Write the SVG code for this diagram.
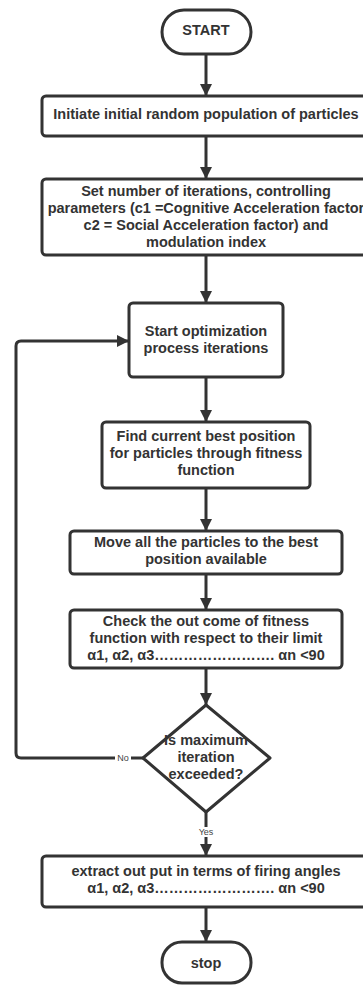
<svg xmlns="http://www.w3.org/2000/svg" width="363" height="985" viewBox="0 0 363 985">
<style>
.shape{fill:#fff;stroke:#333;stroke-width:3;}
.t{font-family:"Liberation Sans",Arial,sans-serif;font-size:14.5px;font-weight:bold;fill:#333;text-anchor:middle;}
.c{fill:none;stroke:#333;stroke-width:3;}
.lbl{font-family:"Liberation Sans",Arial,sans-serif;font-size:9px;fill:#444;text-anchor:middle;}
</style>
<defs>
<marker id="ah" markerUnits="userSpaceOnUse" markerWidth="12" markerHeight="12" viewBox="0 0 12 12" refX="12" refY="6" orient="auto">
<path d="M0,0 L12,6 L0,12 Z" fill="#333"/>
</marker>
</defs>
<rect width="363" height="985" fill="#fff"/>
<g id="connectors">
<path class="c" d="M206,54 V96" marker-end="url(#ah)"/>
<path class="c" d="M206,136 V179" marker-end="url(#ah)"/>
<path class="c" d="M206,255 V303" marker-end="url(#ah)"/>
<path class="c" d="M206,377 V422" marker-end="url(#ah)"/>
<path class="c" d="M206,488 V531" marker-end="url(#ah)"/>
<path class="c" d="M206,574 V610" marker-end="url(#ah)"/>
<path class="c" d="M206,668 V705" marker-end="url(#ah)"/>
<path class="c" d="M206,812 V856" marker-end="url(#ah)"/>
<path class="c" d="M206,907 V942" marker-end="url(#ah)"/>
<path class="c" d="M143,758 H21 Q16,758 16,753 V346 Q16,341 21,341 H129" marker-end="url(#ah)"/>
<rect x="115" y="753" width="16" height="10" fill="#fff"/>
<text class="lbl" x="123" y="761">No</text>
<rect x="197" y="827" width="18" height="10" fill="#fff"/>
<text class="lbl" x="206" y="835">Yes</text>
</g>
<g id="start">
<rect class="shape" x="162" y="10" width="89" height="44" rx="22"/>
<text class="t" x="206" y="35">START</text>
</g>
<g id="init">
<rect class="shape" x="42" y="96" width="330" height="40" rx="4"/>
<text class="t" x="206" y="119">Initiate initial random population of particles</text>
</g>
<g id="params">
<rect class="shape" x="42" y="179" width="330" height="76" rx="4"/>
<text class="t" x="206" y="196">Set number of iterations, controlling</text>
<text class="t" x="206" y="213">parameters (c1 =Cognitive Acceleration factor</text>
<text class="t" x="206" y="230">c2 = Social Acceleration factor) and</text>
<text class="t" x="206" y="247">modulation index</text>
</g>
<g id="startopt">
<rect class="shape" x="129" y="303" width="154" height="74" rx="4"/>
<text class="t" x="206" y="336">Start optimization</text>
<text class="t" x="206" y="353">process iterations</text>
</g>
<g id="findbest">
<rect class="shape" x="102" y="422" width="208" height="66" rx="4"/>
<text class="t" x="206" y="441">Find current best position</text>
<text class="t" x="206" y="458">for particles through fitness</text>
<text class="t" x="206" y="475">function</text>
</g>
<g id="move">
<rect class="shape" x="70" y="531" width="272" height="43" rx="4"/>
<text class="t" x="206" y="547">Move all the particles to the best</text>
<text class="t" x="206" y="564">position available</text>
</g>
<g id="check">
<rect class="shape" x="70" y="610" width="272" height="58" rx="4"/>
<text class="t" x="206" y="626">Check the out come of fitness</text>
<text class="t" x="206" y="643">function with respect to their limit</text>
<text class="t" x="206" y="660">α1, α2, α3……………………. αn &lt;90</text>
</g>
<g id="decision">
<path class="shape" d="M206,705 L270,758 L206,812 L143,758 Z" stroke-linejoin="round"/>
<text class="t" x="206" y="745">Is maximum</text>
<text class="t" x="206" y="762">iteration</text>
<text class="t" x="206" y="779">exceeded?</text>
</g>
<g id="extract">
<rect class="shape" x="42" y="856" width="330" height="51" rx="4"/>
<text class="t" x="206" y="876">extract out put in terms of firing angles</text>
<text class="t" x="206" y="893">α1, α2, α3……………………. αn &lt;90</text>
</g>
<g id="stop">
<rect class="shape" x="162" y="942" width="89" height="41" rx="20"/>
<text class="t" x="206" y="968">stop</text>
</g>
</svg>
